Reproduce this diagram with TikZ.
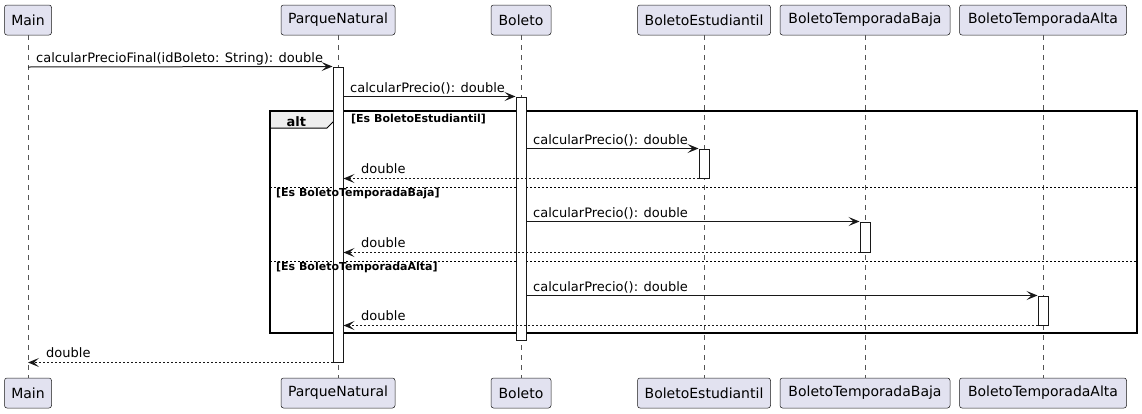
\documentclass[tikz,border=0pt]{standalone}
\usepackage{fontspec}
\setmainfont{DejaVu Sans}
\usetikzlibrary{arrows.meta}
\definecolor{pfill}{HTML}{E2E2F0}
\definecolor{ink}{HTML}{181818}
\definecolor{lline}{HTML}{555555}
\definecolor{tabfill}{HTML}{EEEEEE}
\tikzset{
 part/.style={draw=ink, line width=0.5pt, fill=pfill, rounded corners=2.5pt, minimum height=30pt, inner sep=0pt, font=\fontsize{14}{16}\selectfont, text=black},
 lifeline/.style={draw=lline, line width=0.5pt, dash pattern=on 5pt off 5pt},
 act/.style={draw=ink, line width=1pt, fill=white, minimum width=10pt, inner sep=0pt},
 msg/.style={draw=ink, line width=1pt, -{Stealth[length=11pt,width=9pt,inset=5pt]}},
 ret/.style={msg, dash pattern=on 2pt off 2pt},
 mlabel/.style={anchor=base west, inner sep=0pt, font=\fontsize{13}{15}\selectfont},
 guard/.style={anchor=base west, inner sep=0pt, font=\fontsize{11}{13}\selectfont\bfseries},
 altlabel/.style={anchor=base west, inner sep=0pt, font=\fontsize{13}{15}\selectfont\bfseries},
 altframe/.style={draw=black, line width=1.5pt},
 alttab/.style={draw=black, line width=1pt, fill=tabfill},
 sep/.style={draw=black, line width=1pt, dash pattern=on 2pt off 2pt},
}
\begin{document}
\begin{tikzpicture}[x=1pt,y=-1pt]
\useasboundingbox (0,0) rectangle (1142,413);
% participants (top)
\node[part, minimum width=47pt]  (mainT) at (28,20)   {Main};
\node[part, minimum width=114pt] (pnT)   at (338,20)  {ParqueNatural};
\node[part, minimum width=60pt]  (bT)    at (521,20)  {Boleto};
\node[part, minimum width=133pt] (beT)   at (704,20)  {BoletoEstudiantil};
\node[part, minimum width=170pt] (btbT)  at (865,20)  {BoletoTemporadaBaja};
\node[part, minimum width=167pt] (btaT)  at (1043,20) {BoletoTemporadaAlta};
% participants (bottom)
\node[part, minimum width=47pt]  (mainB) at (28,393)   {Main};
\node[part, minimum width=114pt] (pnB)   at (338,393)  {ParqueNatural};
\node[part, minimum width=60pt]  (bB)    at (521,393)  {Boleto};
\node[part, minimum width=133pt] (beB)   at (704,393)  {BoletoEstudiantil};
\node[part, minimum width=170pt] (btbB)  at (865,393)  {BoletoTemporadaBaja};
\node[part, minimum width=167pt] (btaB)  at (1043,393) {BoletoTemporadaAlta};
% lifelines
\draw[lifeline] (mainT.south) -- (mainB.north);
\draw[lifeline] (pnT.south) -- (pnB.north);
\draw[lifeline] (bT.south) -- (bB.north);
\draw[lifeline] (beT.south) -- (beB.north);
\draw[lifeline] (btbT.south) -- (btbB.north);
\draw[lifeline] (btaT.south) -- (btaB.north);
% alt frame
\draw[alttab] (270,111) -- (337,111) -- (337,118) -- (327,128) -- (270,128) -- cycle;
\draw[altframe] (270,111) rectangle (1137,333);
\draw[sep] (270,187) -- (1137,187);
\draw[sep] (270,261) -- (1137,261);
% activations
\node[act, minimum height=295pt] (actPN)  at (338,214.5) {};
\node[act, minimum height=243pt] (actB)   at (521,218.5) {};
\node[act, minimum height=29pt]  (actBE)  at (704,163.5) {};
\node[act, minimum height=30pt]  (actBTB) at (865,237)   {};
\node[act, minimum height=29pt]  (actBTA) at (1043,310.5) {};
% frame labels (drawn over the bars, as in the reference)
\node[altlabel] (altl) at (286.5,126) {alt};
\node[guard] (g1) at (351,122) {[Es BoletoEstudiantil]};
\node[guard] (g2) at (276,196) {[Es BoletoTemporadaBaja]};
\node[guard] (g3) at (276,270) {[Es BoletoTemporadaAlta]};
% messages
\coordinate (m1s) at (28,67);
\draw[msg] (m1s) -- (actPN.north west);
\node[mlabel] (l1) at (36,62) {calcularPrecioFinal(idBoleto: String): double};
\draw[msg] (actPN.east |- actB.north) -- (actB.north west);
\node[mlabel] (l2) at (350,92) {calcularPrecio(): double};
\draw[msg] (actB.east |- actBE.north) -- (actBE.north west);
\node[mlabel] (l3) at (533,144) {calcularPrecio(): double};
\draw[ret] (actBE.south west) -- (actPN.east |- actBE.south);
\node[mlabel] (r1) at (361,173) {double};
\draw[msg] (actB.east |- actBTB.north) -- (actBTB.north west);
\node[mlabel] (l4) at (533,217) {calcularPrecio(): double};
\draw[ret] (actBTB.south west) -- (actPN.east |- actBTB.south);
\node[mlabel] (r2) at (361,247) {double};
\draw[msg] (actB.east |- actBTA.north) -- (actBTA.north west);
\node[mlabel] (l5) at (533,291) {calcularPrecio(): double};
\draw[ret] (actBTA.south west) -- (actPN.east |- actBTA.south);
\node[mlabel] (r3) at (361,320) {double};
\draw[ret] (actPN.south west) -- (mainT.south |- actPN.south);
\node[mlabel] (r4) at (46,357) {double};
\end{tikzpicture}
\end{document}
